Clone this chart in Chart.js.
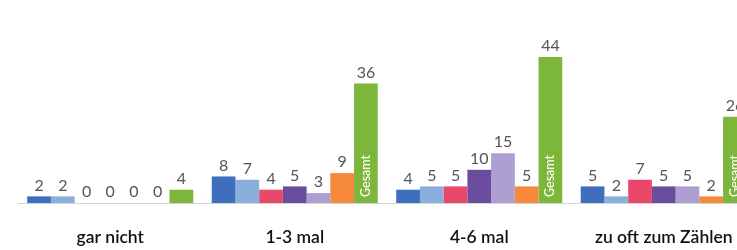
<!DOCTYPE html>
<html lang="de">
<head>
<meta charset="utf-8">
<script src="https://cdn.jsdelivr.net/npm/chart.js@4"></script>
<style>
    html, body { margin: 0; padding: 0; background: #fff; overflow: hidden; }
    #wrap { width: 760px; height: 250px; }
</style>
</head>
<body>
<div id="wrap"><canvas id="chart"></canvas></div>
<script>
// Kategorien (x-Achse)
const categories = ['gar nicht', '1-3 mal', '4-6 mal', 'zu oft zum Zählen'];

// Werte je Teilgruppe
const serie1 = [2, 8, 4, 5];
const serie2 = [2, 7, 5, 2];
const serie3 = [0, 4, 5, 7];
const serie4 = [0, 5, 10, 5];
const serie5 = [0, 3, 15, 5];
const serie6 = [0, 9, 5, 2];
const gesamt = [4, 36, 44, 26];

const seriesNames = ['Gruppe 1', 'Gruppe 2', 'Gruppe 3', 'Gruppe 4', 'Gruppe 5', 'Gruppe 6', 'Gesamt'];
const seriesColors = ['#3e6fbd', '#8bafdc', '#e8476a', '#6a4d9d', '#ad9fd1', '#f7893b', '#7cb63b'];

const allSeries = [serie1, serie2, serie3, serie4, serie5, serie6, gesamt];

// Werte über den Balken + "Gesamt" im grünen Balken
const valueLabels = {
    id: 'valueLabels',
    afterDatasetsDraw(chart) {
        const ctx = chart.ctx;
        ctx.save();
        chart.data.datasets.forEach((ds, i) => {
            const meta = chart.getDatasetMeta(i);
            meta.data.forEach((bar, j) => {
                const v = ds.data[j];
                ctx.fillStyle = '#555';
                ctx.font = '400 16px Lato';
                ctx.textAlign = 'center';
                ctx.textBaseline = 'bottom';
                ctx.fillText(String(v), bar.x, bar.y - 3);

                if (ds.label === 'Gesamt' && bar.base - bar.y > 55) {
                    ctx.save();
                    ctx.translate(bar.x, bar.base - 6);
                    ctx.rotate(-Math.PI / 2);
                    ctx.fillStyle = '#fff';
                    ctx.font = '500 12.5px Lato';
                    ctx.textAlign = 'left';
                    ctx.textBaseline = 'middle';
                    ctx.fillText('Gesamt', 0, 0);
                    ctx.restore();
                }
            });
        });
        ctx.restore();
    }
};

new Chart(document.getElementById('chart'), {
    type: 'bar',
    data: {
        labels: categories,
        datasets: allSeries.map((d, i) => ({
            label: seriesNames[i],
            data: d,
            backgroundColor: seriesColors[i],
            borderWidth: 0,
            categoryPercentage: 0.9,
            barPercentage: 1.0
        }))
    },
    options: {
        responsive: true,
        maintainAspectRatio: false,
        animation: false,
        layout: {
            padding: { left: 18, right: 4, top: 37, bottom: 0 }
        },
        plugins: {
            legend: { display: false },
            tooltip: { enabled: false }
        },
        scales: {
            y: {
                display: false,
                min: 0,
                max: 50
            },
            x: {
                grid: { display: false, drawTicks: false },
                border: { display: true, color: '#d4d4d4', width: 1 },
                ticks: {
                    color: '#111',
                    padding: 24,
                    maxRotation: 0,
                    font: { family: 'Lato', size: 17.5, weight: '600' }
                },
                afterFit(scale) {
                    scale.height = 47;
                }
            }
        }
    },
    plugins: [valueLabels]
});
</script>
</body>
</html>
